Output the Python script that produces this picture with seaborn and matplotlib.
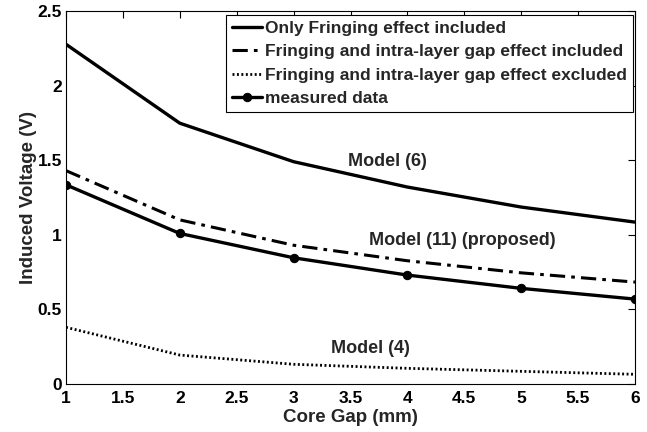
import numpy as np
import pandas as pd
import matplotlib
matplotlib.use("Agg")
import matplotlib.pyplot as plt
import seaborn as sns

core_gap = [1, 2, 3, 4, 5, 6]
only_fringing = [2.277, 1.748, 1.49, 1.32, 1.186, 1.085]
fringing_intra_included = [1.43, 1.10, 0.93, 0.826, 0.745, 0.683]
fringing_intra_excluded = [0.38, 0.194, 0.132, 0.105, 0.085, 0.065]
measured = [1.335, 1.009, 0.846, 0.730, 0.641, 0.569]

labels = ["Only Fringing effect included",
          "Fringing and intra-layer gap effect included",
          "Fringing and intra-layer gap effect excluded",
          "measured data"]

df = pd.concat([
    pd.DataFrame({"gap": core_gap, "V": only_fringing, "series": labels[0]}),
    pd.DataFrame({"gap": core_gap, "V": fringing_intra_included, "series": labels[1]}),
    pd.DataFrame({"gap": core_gap, "V": fringing_intra_excluded, "series": labels[2]}),
    pd.DataFrame({"gap": core_gap, "V": measured, "series": labels[3]}),
])

sns.set_style("white")
plt.rcParams['font.family'] = ['Liberation Sans', 'DejaVu Sans']
plt.rcParams['font.weight'] = 'bold'

fig = plt.figure(figsize=(6.47, 4.32), dpi=100)
ax = fig.add_axes([66/647, 1 - 384/432, (635-66)/647, (384-11)/432])

styles = [
    dict(ls="-", lw=2.4, marker=None),
    dict(ls=(0, (5, 2, 1.2, 2)), lw=2.2, marker=None),
    dict(ls=(0, (0.7, 0.9)), lw=2.0, marker=None),
    dict(ls="-", lw=2.4, marker="o", ms=6),
]
for lab, st in zip(labels, styles):
    sub = df[df["series"] == lab]
    kw = dict(color="black", linewidth=st["lw"], linestyle=st["ls"], label=lab)
    if st["marker"]:
        kw.update(marker="o", markersize=st["ms"], markerfacecolor="black",
                  markeredgecolor="black")
    sns.lineplot(data=sub, x="gap", y="V", ax=ax, **kw)

ax.set_xlim(1, 6)
ax.set_ylim(0, 2.5)
ax.set_xticks(np.arange(1, 6.01, 0.5))
ax.set_xticklabels(["1", "1.5", "2", "2.5", "3", "3.5", "4", "4.5", "5", "5.5", "6"])
ax.set_yticks(np.arange(0, 2.51, 0.5))
ax.set_yticklabels(["0", "0.5", "1", "1.5", "2", "2.5"])
ax.tick_params(direction="in", top=True, right=True, length=5, width=0.8,
               labelsize=12.5, colors="black")
ax.tick_params(axis="x", pad=5)
ax.tick_params(axis="y", pad=3)
for lbl in ax.get_xticklabels() + ax.get_yticklabels():
    lbl.set_fontweight("bold")
for sp in ax.spines.values():
    sp.set_color("black")
    sp.set_linewidth(0.8)

ax.set_xlabel("Core Gap (mm)", fontsize=13.5, fontweight="bold", labelpad=2)
ax.set_ylabel("Induced Voltage (V)", fontsize=13.5, fontweight="bold", labelpad=0)

ax.text(3.48, 1.49, "Model (6)", fontsize=13, fontweight="bold", ha="left", va="center")
ax.text(3.66, 0.96, "Model (11) (proposed)", fontsize=13, fontweight="bold", ha="left", va="center")
ax.text(3.33, 0.24, "Model (4)", fontsize=13, fontweight="bold", ha="left", va="center")

leg = ax.legend(loc="upper right", bbox_to_anchor=(0.996, 0.99), frameon=True,
                fancybox=False, edgecolor="black", framealpha=1,
                prop={"size": 12.5, "weight": "bold"}, handlelength=1.75,
                handletextpad=0.15, borderpad=0.35, labelspacing=0.48,
                borderaxespad=0.0)
leg.get_frame().set_linewidth(0.8)

fig.savefig("out.png", dpi=100)
